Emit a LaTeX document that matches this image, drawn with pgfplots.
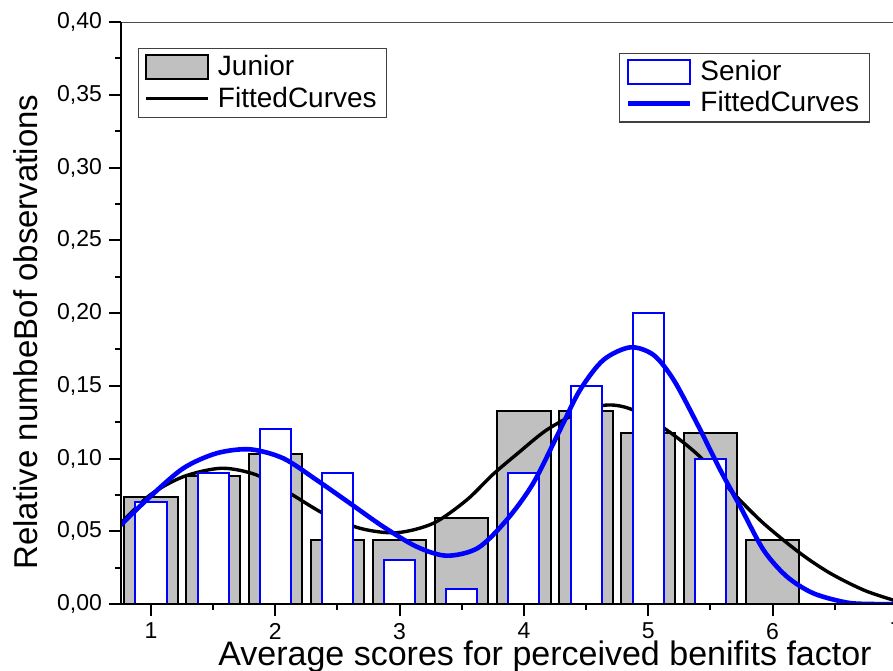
\documentclass[border=0pt]{standalone}
\usepackage{fontspec}
\setmainfont{Liberation Sans}
\usepackage{pgfplots}
\pgfplotsset{compat=1.18}
\definecolor{jgray}{RGB}{192,192,192}
\definecolor{sblue}{RGB}{0,0,255}
\pgfplotsset{common/.style={
  scale only axis, width=387.9pt, height=291pt,
  xmin=0.7587, xmax=7, ymin=0, ymax=0.40,
  clip=true,
}}
\begin{document}
\begin{tikzpicture}
\begin{axis}[common, axis lines=none,
  legend style={at={(0,1)}, anchor=north west, xshift=8.5pt, yshift=-13pt,
    draw=black!75, line width=0.6pt, fill=white,
    font=\fontsize{14}{16}\selectfont, inner xsep=3pt, inner ysep=1.5pt,
    row sep=0pt, column sep=2pt, cells={anchor=west}},
  legend cell align=left]
\addplot[ybar, bar width=0.43, bar shift=0pt, fill=jgray, draw=black, line width=1pt,
  legend image code/.code={\draw[fill=jgray, draw=black, line width=1pt] (0pt,-6pt) rectangle (31pt,6pt);}]
  coordinates {(1,0.0735) (1.5,0.0882) (2,0.1029) (2.5,0.0441) (3,0.0441) (3.5,0.0588)
               (4,0.1324) (4.5,0.1324) (5,0.1176) (5.5,0.1176) (6,0.0441)};
\addlegendentry{Junior}
\addplot[black, line width=1.7pt, smooth,
  legend image code/.code={\draw[black, line width=1.7pt] (0pt,0pt) -- (31pt,0pt);}]
  coordinates {(0.757,0.0555) (0.992,0.0749) (1.26,0.0875) (1.568,0.0933) (1.849,0.0887)
   (2.117,0.0761) (2.386,0.0623) (2.683,0.0520) (2.977,0.0490) (3.272,0.0555) (3.54,0.0715)
   (3.75,0.0890) (3.95,0.1035) (4.183,0.1196) (4.451,0.1320) (4.679,0.1368) (4.880,0.1333)
   (5.149,0.1196) (5.417,0.1012) (5.685,0.0761) (5.927,0.0555) (6.224,0.0348) (6.465,0.0211)
   (6.733,0.0096) (6.97,0.0027) (7.0,0.0022)};
\addlegendentry{FittedCurves}
\end{axis}
\begin{axis}[common, axis lines=left, axis line style={-, line width=1pt, black},
  axis on top,
  tick align=outside, major tick length=6pt, minor tick length=3pt,
  tick style={line width=1pt, black},
  xtick={1,2,3,4,5,6,7}, minor x tick num=1,
  ytick={0,0.05,0.10,0.15,0.20,0.25,0.30,0.35,0.40}, minor y tick num=1,
  /pgf/number format/assume math mode=true,
  ticklabel style={font=\fontsize{11.5}{13}\selectfont},
  yticklabel style={/pgf/number format/.cd, fixed, fixed zerofill, precision=2, use comma},
  legend style={at={(1,1)}, anchor=north east, xshift=-13.5pt, yshift=-15.4pt,
    draw=black!75, line width=0.6pt, fill=white,
    font=\fontsize{14}{16}\selectfont, inner xsep=3pt, inner ysep=1.5pt,
    row sep=0pt, column sep=2pt, cells={anchor=west}},
  legend cell align=left]
\addplot[ybar, bar width=0.25, bar shift=0pt, fill=white, draw=sblue, line width=1pt,
  legend image code/.code={\draw[fill=white, draw=sblue, line width=1pt] (0pt,-6pt) rectangle (31pt,6pt);}]
  coordinates {(1,0.07) (1.5,0.09) (2,0.12) (2.5,0.09) (3,0.03) (3.5,0.01)
               (4,0.09) (4.5,0.15) (5,0.20) (5.5,0.10)};
\addlegendentry{Senior}
\addplot[sblue, line width=2.3pt, smooth,
  legend image code/.code={\draw[sblue, line width=2.3pt] (0pt,0pt) -- (31pt,0pt);}]
  coordinates {(0.757,0.0543) (0.992,0.0737) (1.26,0.0933) (1.528,0.1036) (1.797,0.1063)
   (2.065,0.1001) (2.333,0.0852) (2.601,0.0692) (2.869,0.0531) (3.137,0.0394) (3.378,0.0332)
   (3.63,0.0385) (3.861,0.0577) (4.075,0.0830) (4.29,0.1196) (4.451,0.1470) (4.639,0.1677)
   (4.856,0.1764) (5.044,0.1711) (5.205,0.1540) (5.392,0.1242) (5.58,0.0921) (5.741,0.0669)
   (5.928,0.0371) (6.116,0.0188) (6.33,0.0073) (6.598,0.0010) (6.8,0.0) (7.0,0.0)};
\addlegendentry{FittedCurves}
\draw[black!70, line width=0.6pt] (rel axis cs:0,1) -- (rel axis cs:1,1);
\end{axis}
\node[rotate=90, anchor=base, font=\fontsize{16.5}{18}\selectfont] at (-42pt,136pt) {Relative numbeBof observations};
\node[anchor=base, font=\fontsize{17}{19}\selectfont] at (212pt,-30.5pt) {Average scores for perceived benifits factor};
\pgfresetboundingbox
\path[use as bounding box] (-60.5pt,-33pt) rectangle (386pt,302pt);
\end{tikzpicture}
\end{document}
